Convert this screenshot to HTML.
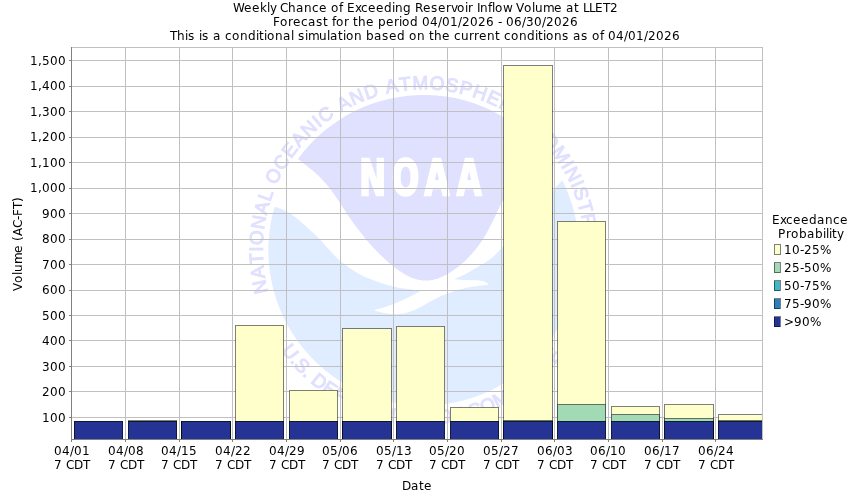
<!DOCTYPE html>
<html><head><meta charset="utf-8"><title>Weekly Chance of Exceeding Reservoir Inflow Volume at LLET2</title>
<style>
html,body{margin:0;padding:0;background:#fff;}
body{width:850px;height:500px;overflow:hidden;}
svg{display:block;}
text{font-family:"DejaVu Sans","Liberation Sans",sans-serif;font-size:12px;fill:#000;font-kerning:none;font-variant-ligatures:none;}
.grid line{stroke:#c0c0c0;stroke-width:1;shape-rendering:crispEdges;}
.axis line{stroke:#808080;stroke-width:1;shape-rendering:crispEdges;}
.bar .o{fill:none;stroke:#000;stroke-opacity:0.5;stroke-width:1;shape-rendering:crispEdges;}
</style></head><body>
<svg width="850" height="500" viewBox="0 0 850 500">
<rect width="850" height="500" fill="#fff"/>

<text x="233 244 252 260 267 270 276 280 288 296 304 312 319 327 331 339 343 347 355 361 368 376 384 392 395 403 411 415 423 431 438 446 451 457 465 468 473 477 480 488 492 495 503 512 516 524 532 535 543 554 562 566 574 579 583 589 595 603 610" y="12">Weekly Chance of Exceeding Reservoir Inflow Volume at LLET2</text>
<text x="273 280 288 293 301 308 316 323 328 332 336 344 349 353 358 366 374 378 386 394 399 402 410 418 422 430 438 442 450 458 462 470 478 486 494 498 502 506 514 522 526 534 542 546 554 562 570" y="26">Forecast for the period 04/01/2026 - 06/30/2026</text>
<text x="170 177 185 188 195 199 202 209 213 221 225 232 240 248 256 259 264 267 275 283 291 294 298 305 308 319 327 330 338 343 346 354 362 366 374 382 389 397 405 409 417 425 429 434 442 450 454 461 469 474 479 487 495 500 504 511 519 527 535 538 543 546 554 562 569 573 581 588 592 600 604 608 616 624 628 636 644 648 656 664 672" y="40">This is a conditional simulation based on the current conditions as of 04/01/2026</text>
<g id="noaa">
<path d="M274.6 206.7 A155.3 155.3 0 1 0 562.3 180.3C559.5 183.4 550.4 192.9 545.0 199.0C539.6 205.1 534.8 211.3 530.0 217.0C525.2 222.7 520.6 227.9 516.0 233.0C511.4 238.1 506.4 243.3 502.5 247.3C498.6 251.3 496.5 253.9 492.9 256.9C489.3 259.9 485.1 262.6 480.8 265.3C476.5 268.0 471.4 270.9 467.0 273.2C462.6 275.5 456.3 278.2 454.2 279.2C456.1 279.4 461.8 279.9 465.4 280.1C469.0 280.3 473.1 280.2 476.0 280.3C478.9 280.4 480.8 280.6 482.5 280.9C484.2 281.2 484.9 281.6 486.0 282.3C487.1 283.0 488.3 284.4 488.8 284.8C487.1 285.0 482.2 285.5 478.6 286.0C475.0 286.5 470.4 287.1 467.1 287.7C463.8 288.3 461.8 288.8 458.8 289.7C455.8 290.6 453.1 291.4 449.0 293.0C444.9 294.6 439.3 296.9 434.1 299.5C428.9 302.1 421.9 306.5 417.7 308.6C413.5 310.7 411.5 311.2 409.0 312.0C406.5 312.8 405.5 313.2 402.8 313.5C400.1 313.8 396.6 314.2 393.0 314.0C389.4 313.8 384.6 313.0 381.4 312.4C378.2 311.8 375.2 310.6 374.0 310.2C375.2 309.9 378.2 309.1 381.4 308.1C384.6 307.1 388.3 306.1 393.0 304.2C397.7 302.3 404.7 299.3 409.4 297.0C414.1 294.7 419.1 291.7 421.0 290.6C419.1 290.4 414.1 290.0 409.4 289.3C404.7 288.6 398.5 287.7 393.0 286.4C387.5 285.1 382.0 283.4 376.5 281.4C371.0 279.4 364.9 277.1 360.0 274.5C355.1 271.9 350.8 268.8 347.0 266.0C343.2 263.2 341.7 262.6 337.0 258.0C332.3 253.4 325.0 244.5 319.0 238.5C313.0 232.5 306.2 226.4 301.0 222.0C295.8 217.6 291.9 214.3 287.5 211.8C283.1 209.3 276.8 207.6 274.6 206.7Z" fill="#e0ecff"/>
<path d="M298.0 159.0 A155.3 155.3 0 0 1 553.3 164.8C549.1 167.0 534.9 173.8 528.0 178.0C521.1 182.2 516.2 186.1 512.0 190.0C507.8 193.9 505.3 197.3 502.5 201.6C499.7 205.9 497.7 211.2 495.3 216.0C492.9 220.8 490.4 226.1 488.0 230.5C485.6 234.9 483.6 238.5 480.8 242.5C478.0 246.5 474.4 250.9 471.2 254.5C468.0 258.1 465.2 260.9 461.6 264.0C458.0 267.1 453.5 270.4 449.6 272.8C445.7 275.2 441.9 277.2 438.0 278.5C434.1 279.8 430.1 280.7 425.9 280.6C421.7 280.6 417.1 279.6 413.0 278.2C408.9 276.8 404.9 274.3 401.2 272.0C397.5 269.7 394.7 267.6 391.0 264.5C387.3 261.4 383.0 257.5 379.0 253.5C375.0 249.5 371.5 245.9 367.0 240.5C362.5 235.1 356.5 227.2 352.0 221.0C347.5 214.8 343.8 208.5 340.0 203.0C336.2 197.5 333.5 192.9 329.5 188.0C325.5 183.1 321.2 178.3 316.0 173.5C310.8 168.7 301.0 161.4 298.0 159.0Z" fill="#e0e0ff"/>
<path id="arcT" d="M423.7 411.3A161.0 161.0 0 0 1 423.7 89.30000000000001A161.0 161.0 0 0 1 423.7 411.3" fill="none"/>
<path id="arcB" d="M423.7 76.30000000000001A174.0 174.0 0 0 0 423.7 424.3A174.0 174.0 0 0 0 423.7 76.30000000000001" fill="none"/>
<text style="font-family:'Liberation Sans',sans-serif;font-size:19px;fill:#e0e0ff;stroke:#e0e0ff;stroke-width:1px" text-anchor="middle"><textPath href="#arcT" startOffset="504.8" textLength="588.7" lengthAdjust="spacing">NATIONAL OCEANIC AND ATMOSPHERIC ADMINISTRATION</textPath></text>
<text style="font-family:'Liberation Sans',sans-serif;font-size:19px;fill:#e0e0ff;stroke:#e0e0ff;stroke-width:1px" text-anchor="middle"><textPath href="#arcB" startOffset="543.4" textLength="328.0" lengthAdjust="spacing">U.S. DEPARTMENT OF COMMERCE</textPath></text>
<text transform="scale(0.643,1)" x="558.6 609.8 660.3 710.3" y="195.45" style="font-family:'DejaVu Sans',sans-serif;font-weight:bold;font-size:49.9px;fill:#fff;stroke:#fff;stroke-width:2.5px;stroke-linejoin:miter">NOAA</text>
</g>
<g class="grid">
<line x1="125.5" y1="47.5" x2="125.5" y2="439.5"/>
<line x1="179.5" y1="47.5" x2="179.5" y2="439.5"/>
<line x1="232.5" y1="47.5" x2="232.5" y2="439.5"/>
<line x1="286.5" y1="47.5" x2="286.5" y2="439.5"/>
<line x1="340.5" y1="47.5" x2="340.5" y2="439.5"/>
<line x1="393.5" y1="47.5" x2="393.5" y2="439.5"/>
<line x1="447.5" y1="47.5" x2="447.5" y2="439.5"/>
<line x1="501.5" y1="47.5" x2="501.5" y2="439.5"/>
<line x1="554.5" y1="47.5" x2="554.5" y2="439.5"/>
<line x1="608.5" y1="47.5" x2="608.5" y2="439.5"/>
<line x1="662.5" y1="47.5" x2="662.5" y2="439.5"/>
<line x1="715.5" y1="47.5" x2="715.5" y2="439.5"/>
<line x1="71.5" y1="417.5" x2="762.5" y2="417.5"/>
<line x1="71.5" y1="391.5" x2="762.5" y2="391.5"/>
<line x1="71.5" y1="366.5" x2="762.5" y2="366.5"/>
<line x1="71.5" y1="340.5" x2="762.5" y2="340.5"/>
<line x1="71.5" y1="315.5" x2="762.5" y2="315.5"/>
<line x1="71.5" y1="290.5" x2="762.5" y2="290.5"/>
<line x1="71.5" y1="264.5" x2="762.5" y2="264.5"/>
<line x1="71.5" y1="239.5" x2="762.5" y2="239.5"/>
<line x1="71.5" y1="213.5" x2="762.5" y2="213.5"/>
<line x1="71.5" y1="188.5" x2="762.5" y2="188.5"/>
<line x1="71.5" y1="162.5" x2="762.5" y2="162.5"/>
<line x1="71.5" y1="137.5" x2="762.5" y2="137.5"/>
<line x1="71.5" y1="111.5" x2="762.5" y2="111.5"/>
<line x1="71.5" y1="86.5" x2="762.5" y2="86.5"/>
<line x1="71.5" y1="60.5" x2="762.5" y2="60.5"/>
</g>
<clipPath id="cp"><rect x="72" y="47" width="690" height="393"/></clipPath>
<g class="bar" clip-path="url(#cp)">
<rect x="74.60" y="421.6" width="48.3" height="23.4" fill="#ffffcc"/>
<rect class="o" x="74.5" y="421.5" width="48" height="24"/>
<rect x="74.60" y="421.6" width="48.3" height="23.4" fill="#a1dab4"/>
<rect class="o" x="74.5" y="421.5" width="48" height="24"/>
<rect x="74.60" y="421.6" width="48.3" height="23.4" fill="#41b6c4"/>
<rect class="o" x="74.5" y="421.5" width="48" height="24"/>
<rect x="74.60" y="421.6" width="48.3" height="23.4" fill="#2c7fb8"/>
<rect class="o" x="74.5" y="421.5" width="48" height="24"/>
<rect x="74.60" y="421.6" width="48.3" height="23.4" fill="#253494"/>
<rect class="o" x="74.5" y="421.5" width="48" height="24"/>
<rect x="128.25" y="420.5" width="48.3" height="24.5" fill="#ffffcc"/>
<rect class="o" x="128.5" y="420.5" width="48" height="25"/>
<rect x="128.25" y="421.6" width="48.3" height="23.4" fill="#a1dab4"/>
<rect class="o" x="128.5" y="421.5" width="48" height="24"/>
<rect x="128.25" y="421.6" width="48.3" height="23.4" fill="#41b6c4"/>
<rect class="o" x="128.5" y="421.5" width="48" height="24"/>
<rect x="128.25" y="421.6" width="48.3" height="23.4" fill="#2c7fb8"/>
<rect class="o" x="128.5" y="421.5" width="48" height="24"/>
<rect x="128.25" y="421.6" width="48.3" height="23.4" fill="#253494"/>
<rect class="o" x="128.5" y="421.5" width="48" height="24"/>
<rect x="181.90" y="421.6" width="48.3" height="23.4" fill="#ffffcc"/>
<rect class="o" x="181.5" y="421.5" width="49" height="24"/>
<rect x="181.90" y="421.6" width="48.3" height="23.4" fill="#a1dab4"/>
<rect class="o" x="181.5" y="421.5" width="49" height="24"/>
<rect x="181.90" y="421.6" width="48.3" height="23.4" fill="#41b6c4"/>
<rect class="o" x="181.5" y="421.5" width="49" height="24"/>
<rect x="181.90" y="421.6" width="48.3" height="23.4" fill="#2c7fb8"/>
<rect class="o" x="181.5" y="421.5" width="49" height="24"/>
<rect x="181.90" y="421.6" width="48.3" height="23.4" fill="#253494"/>
<rect class="o" x="181.5" y="421.5" width="49" height="24"/>
<rect x="235.55" y="325.1" width="48.3" height="119.9" fill="#ffffcc"/>
<rect class="o" x="235.5" y="325.5" width="48" height="120"/>
<rect x="235.55" y="421.6" width="48.3" height="23.4" fill="#a1dab4"/>
<rect class="o" x="235.5" y="421.5" width="48" height="24"/>
<rect x="235.55" y="421.6" width="48.3" height="23.4" fill="#41b6c4"/>
<rect class="o" x="235.5" y="421.5" width="48" height="24"/>
<rect x="235.55" y="421.6" width="48.3" height="23.4" fill="#2c7fb8"/>
<rect class="o" x="235.5" y="421.5" width="48" height="24"/>
<rect x="235.55" y="421.6" width="48.3" height="23.4" fill="#253494"/>
<rect class="o" x="235.5" y="421.5" width="48" height="24"/>
<rect x="289.20" y="390.2" width="48.3" height="54.8" fill="#ffffcc"/>
<rect class="o" x="289.5" y="390.5" width="48" height="55"/>
<rect x="289.20" y="421.6" width="48.3" height="23.4" fill="#a1dab4"/>
<rect class="o" x="289.5" y="421.5" width="48" height="24"/>
<rect x="289.20" y="421.6" width="48.3" height="23.4" fill="#41b6c4"/>
<rect class="o" x="289.5" y="421.5" width="48" height="24"/>
<rect x="289.20" y="421.6" width="48.3" height="23.4" fill="#2c7fb8"/>
<rect class="o" x="289.5" y="421.5" width="48" height="24"/>
<rect x="289.20" y="421.6" width="48.3" height="23.4" fill="#253494"/>
<rect class="o" x="289.5" y="421.5" width="48" height="24"/>
<rect x="342.85" y="328.9" width="48.3" height="116.1" fill="#ffffcc"/>
<rect class="o" x="342.5" y="328.5" width="49" height="117"/>
<rect x="342.85" y="421.6" width="48.3" height="23.4" fill="#a1dab4"/>
<rect class="o" x="342.5" y="421.5" width="49" height="24"/>
<rect x="342.85" y="421.6" width="48.3" height="23.4" fill="#41b6c4"/>
<rect class="o" x="342.5" y="421.5" width="49" height="24"/>
<rect x="342.85" y="421.6" width="48.3" height="23.4" fill="#2c7fb8"/>
<rect class="o" x="342.5" y="421.5" width="49" height="24"/>
<rect x="342.85" y="421.6" width="48.3" height="23.4" fill="#253494"/>
<rect class="o" x="342.5" y="421.5" width="49" height="24"/>
<rect x="396.50" y="326.5" width="48.3" height="118.5" fill="#ffffcc"/>
<rect class="o" x="396.5" y="326.5" width="48" height="119"/>
<rect x="396.50" y="421.6" width="48.3" height="23.4" fill="#a1dab4"/>
<rect class="o" x="396.5" y="421.5" width="48" height="24"/>
<rect x="396.50" y="421.6" width="48.3" height="23.4" fill="#41b6c4"/>
<rect class="o" x="396.5" y="421.5" width="48" height="24"/>
<rect x="396.50" y="421.6" width="48.3" height="23.4" fill="#2c7fb8"/>
<rect class="o" x="396.5" y="421.5" width="48" height="24"/>
<rect x="396.50" y="421.6" width="48.3" height="23.4" fill="#253494"/>
<rect class="o" x="396.5" y="421.5" width="48" height="24"/>
<rect x="450.15" y="407.3" width="48.3" height="37.7" fill="#ffffcc"/>
<rect class="o" x="450.5" y="407.5" width="48" height="38"/>
<rect x="450.15" y="421.6" width="48.3" height="23.4" fill="#a1dab4"/>
<rect class="o" x="450.5" y="421.5" width="48" height="24"/>
<rect x="450.15" y="421.6" width="48.3" height="23.4" fill="#41b6c4"/>
<rect class="o" x="450.5" y="421.5" width="48" height="24"/>
<rect x="450.15" y="421.6" width="48.3" height="23.4" fill="#2c7fb8"/>
<rect class="o" x="450.5" y="421.5" width="48" height="24"/>
<rect x="450.15" y="421.6" width="48.3" height="23.4" fill="#253494"/>
<rect class="o" x="450.5" y="421.5" width="48" height="24"/>
<rect x="503.80" y="65.8" width="48.3" height="379.2" fill="#ffffcc"/>
<rect class="o" x="503.5" y="65.5" width="49" height="380"/>
<rect x="503.80" y="420.5" width="48.3" height="24.5" fill="#a1dab4"/>
<rect class="o" x="503.5" y="420.5" width="49" height="25"/>
<rect x="503.80" y="421.6" width="48.3" height="23.4" fill="#41b6c4"/>
<rect class="o" x="503.5" y="421.5" width="49" height="24"/>
<rect x="503.80" y="421.6" width="48.3" height="23.4" fill="#2c7fb8"/>
<rect class="o" x="503.5" y="421.5" width="49" height="24"/>
<rect x="503.80" y="421.6" width="48.3" height="23.4" fill="#253494"/>
<rect class="o" x="503.5" y="421.5" width="49" height="24"/>
<rect x="557.45" y="221.3" width="48.3" height="223.7" fill="#ffffcc"/>
<rect class="o" x="557.5" y="221.5" width="48" height="224"/>
<rect x="557.45" y="404.3" width="48.3" height="40.7" fill="#a1dab4"/>
<rect class="o" x="557.5" y="404.5" width="48" height="41"/>
<rect x="557.45" y="421.6" width="48.3" height="23.4" fill="#41b6c4"/>
<rect class="o" x="557.5" y="421.5" width="48" height="24"/>
<rect x="557.45" y="421.6" width="48.3" height="23.4" fill="#2c7fb8"/>
<rect class="o" x="557.5" y="421.5" width="48" height="24"/>
<rect x="557.45" y="421.6" width="48.3" height="23.4" fill="#253494"/>
<rect class="o" x="557.5" y="421.5" width="48" height="24"/>
<rect x="611.10" y="406.3" width="48.3" height="38.7" fill="#ffffcc"/>
<rect class="o" x="611.5" y="406.5" width="48" height="39"/>
<rect x="611.10" y="414.3" width="48.3" height="30.7" fill="#a1dab4"/>
<rect class="o" x="611.5" y="414.5" width="48" height="31"/>
<rect x="611.10" y="421.6" width="48.3" height="23.4" fill="#41b6c4"/>
<rect class="o" x="611.5" y="421.5" width="48" height="24"/>
<rect x="611.10" y="421.6" width="48.3" height="23.4" fill="#2c7fb8"/>
<rect class="o" x="611.5" y="421.5" width="48" height="24"/>
<rect x="611.10" y="421.6" width="48.3" height="23.4" fill="#253494"/>
<rect class="o" x="611.5" y="421.5" width="48" height="24"/>
<rect x="664.75" y="404.3" width="48.3" height="40.7" fill="#ffffcc"/>
<rect class="o" x="664.5" y="404.5" width="49" height="41"/>
<rect x="664.75" y="418.3" width="48.3" height="26.7" fill="#a1dab4"/>
<rect class="o" x="664.5" y="418.5" width="49" height="27"/>
<rect x="664.75" y="421.6" width="48.3" height="23.4" fill="#41b6c4"/>
<rect class="o" x="664.5" y="421.5" width="49" height="24"/>
<rect x="664.75" y="421.6" width="48.3" height="23.4" fill="#2c7fb8"/>
<rect class="o" x="664.5" y="421.5" width="49" height="24"/>
<rect x="664.75" y="421.6" width="48.3" height="23.4" fill="#253494"/>
<rect class="o" x="664.5" y="421.5" width="49" height="24"/>
<rect x="718.40" y="414.9" width="48.3" height="30.1" fill="#ffffcc"/>
<rect class="o" x="718.5" y="414.5" width="48" height="31"/>
<rect x="718.40" y="420.5" width="48.3" height="24.5" fill="#a1dab4"/>
<rect class="o" x="718.5" y="420.5" width="48" height="25"/>
<rect x="718.40" y="421.6" width="48.3" height="23.4" fill="#41b6c4"/>
<rect class="o" x="718.5" y="421.5" width="48" height="24"/>
<rect x="718.40" y="421.6" width="48.3" height="23.4" fill="#2c7fb8"/>
<rect class="o" x="718.5" y="421.5" width="48" height="24"/>
<rect x="718.40" y="421.6" width="48.3" height="23.4" fill="#253494"/>
<rect class="o" x="718.5" y="421.5" width="48" height="24"/>
</g>
<g class="grid">
<line x1="71.5" y1="47.5" x2="763.0" y2="47.5"/>
<line x1="762.5" y1="47.5" x2="762.5" y2="439.5"/>
</g>
<g class="axis">
<line x1="71.5" y1="47.0" x2="71.5" y2="440.0"/>
<line x1="71.0" y1="439.5" x2="763.0" y2="439.5"/>
<line x1="71.5" y1="439.5" x2="71.5" y2="442.0"/>
<line x1="125.5" y1="439.5" x2="125.5" y2="442.0"/>
<line x1="179.5" y1="439.5" x2="179.5" y2="442.0"/>
<line x1="232.5" y1="439.5" x2="232.5" y2="442.0"/>
<line x1="286.5" y1="439.5" x2="286.5" y2="442.0"/>
<line x1="340.5" y1="439.5" x2="340.5" y2="442.0"/>
<line x1="393.5" y1="439.5" x2="393.5" y2="442.0"/>
<line x1="447.5" y1="439.5" x2="447.5" y2="442.0"/>
<line x1="501.5" y1="439.5" x2="501.5" y2="442.0"/>
<line x1="554.5" y1="439.5" x2="554.5" y2="442.0"/>
<line x1="608.5" y1="439.5" x2="608.5" y2="442.0"/>
<line x1="662.5" y1="439.5" x2="662.5" y2="442.0"/>
<line x1="715.5" y1="439.5" x2="715.5" y2="442.0"/>
<line x1="69.0" y1="417.5" x2="71.5" y2="417.5"/>
<line x1="69.0" y1="391.5" x2="71.5" y2="391.5"/>
<line x1="69.0" y1="366.5" x2="71.5" y2="366.5"/>
<line x1="69.0" y1="340.5" x2="71.5" y2="340.5"/>
<line x1="69.0" y1="315.5" x2="71.5" y2="315.5"/>
<line x1="69.0" y1="290.5" x2="71.5" y2="290.5"/>
<line x1="69.0" y1="264.5" x2="71.5" y2="264.5"/>
<line x1="69.0" y1="239.5" x2="71.5" y2="239.5"/>
<line x1="69.0" y1="213.5" x2="71.5" y2="213.5"/>
<line x1="69.0" y1="188.5" x2="71.5" y2="188.5"/>
<line x1="69.0" y1="162.5" x2="71.5" y2="162.5"/>
<line x1="69.0" y1="137.5" x2="71.5" y2="137.5"/>
<line x1="69.0" y1="111.5" x2="71.5" y2="111.5"/>
<line x1="69.0" y1="86.5" x2="71.5" y2="86.5"/>
<line x1="69.0" y1="60.5" x2="71.5" y2="60.5"/>
</g>
<text x="42 50 58" y="422">100</text>
<text x="42 50 58" y="396">200</text>
<text x="42 50 58" y="371">300</text>
<text x="42 50 58" y="345">400</text>
<text x="42 50 58" y="320">500</text>
<text x="42 50 58" y="294">600</text>
<text x="42 50 58" y="269">700</text>
<text x="42 50 58" y="243">800</text>
<text x="42 50 58" y="218">900</text>
<text x="30 38 42 50 58" y="192">1,000</text>
<text x="30 38 42 50 58" y="167">1,100</text>
<text x="30 38 42 50 58" y="141">1,200</text>
<text x="30 38 42 50 58" y="116">1,300</text>
<text x="30 38 42 50 58" y="90">1,400</text>
<text x="30 38 42 50 58" y="65">1,500</text>
<text x="54 62 70 74 82" y="455">04/01</text>
<text x="54 62 66 74 83" y="469">7 CDT</text>
<text x="108 116 124 128 136" y="455">04/08</text>
<text x="108 116 120 128 137" y="469">7 CDT</text>
<text x="161 169 177 181 189" y="455">04/15</text>
<text x="161 169 173 181 190" y="469">7 CDT</text>
<text x="215 223 231 235 243" y="455">04/22</text>
<text x="215 223 227 235 244" y="469">7 CDT</text>
<text x="269 277 285 289 297" y="455">04/29</text>
<text x="269 277 281 289 298" y="469">7 CDT</text>
<text x="322 330 338 342 350" y="455">05/06</text>
<text x="322 330 334 342 351" y="469">7 CDT</text>
<text x="376 384 392 396 404" y="455">05/13</text>
<text x="376 384 388 396 405" y="469">7 CDT</text>
<text x="429 437 445 449 457" y="455">05/20</text>
<text x="429 437 441 449 458" y="469">7 CDT</text>
<text x="483 491 499 503 511" y="455">05/27</text>
<text x="483 491 495 503 512" y="469">7 CDT</text>
<text x="537 545 553 557 565" y="455">06/03</text>
<text x="537 545 549 557 566" y="469">7 CDT</text>
<text x="590 598 606 610 618" y="455">06/10</text>
<text x="590 598 602 610 619" y="469">7 CDT</text>
<text x="644 652 660 664 672" y="455">06/17</text>
<text x="644 652 656 664 673" y="469">7 CDT</text>
<text x="698 706 714 718 726" y="455">06/24</text>
<text x="698 706 710 718 727" y="469">7 CDT</text>
<text x="402 411 419 424" y="490">Date</text>
<text x="-47 -39 -31 -28 -20 -9 -1 3 8 16 24 28 35 42" y="0" transform="translate(22,244) rotate(-90)">Volume (AC-FT)</text>
<text x="772 780 786 793 801 809 817 825 833 840" y="224">Exceedance</text>
<text x="778 786 791 799 807 815 823 826 829 832 837" y="238">Probability</text>
<rect x="774" y="245.0" width="6" height="10" fill="#ffffcc" shape-rendering="crispEdges"/><rect x="774.5" y="244.5" width="6" height="10" fill="none" stroke="#000" stroke-opacity="0.5" shape-rendering="crispEdges"/>
<text x="784 792 800 804 812 820" y="254.0">10-25%</text>
<rect x="774" y="263.0" width="6" height="10" fill="#a1dab4" shape-rendering="crispEdges"/><rect x="774.5" y="262.5" width="6" height="10" fill="none" stroke="#000" stroke-opacity="0.5" shape-rendering="crispEdges"/>
<text x="784 792 800 804 812 820" y="272.0">25-50%</text>
<rect x="774" y="281.0" width="6" height="10" fill="#41b6c4" shape-rendering="crispEdges"/><rect x="774.5" y="280.5" width="6" height="10" fill="none" stroke="#000" stroke-opacity="0.5" shape-rendering="crispEdges"/>
<text x="784 792 800 804 812 820" y="290.0">50-75%</text>
<rect x="774" y="299.0" width="6" height="10" fill="#2c7fb8" shape-rendering="crispEdges"/><rect x="774.5" y="298.5" width="6" height="10" fill="none" stroke="#000" stroke-opacity="0.5" shape-rendering="crispEdges"/>
<text x="784 792 800 804 812 820" y="308.0">75-90%</text>
<rect x="774" y="317.0" width="6" height="10" fill="#253494" shape-rendering="crispEdges"/><rect x="774.5" y="316.5" width="6" height="10" fill="none" stroke="#000" stroke-opacity="0.5" shape-rendering="crispEdges"/>
<text x="784 794 802 810" y="326.0">&gt;90%</text>
</svg></body></html>
